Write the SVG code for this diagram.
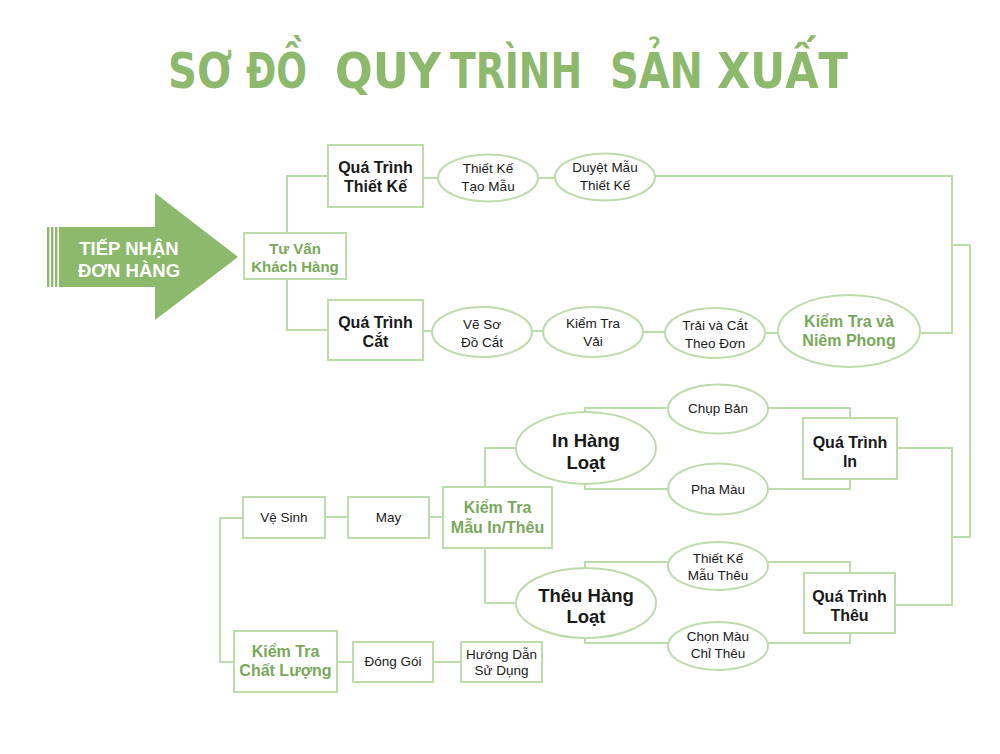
<svg xmlns="http://www.w3.org/2000/svg" width="1000" height="754" viewBox="0 0 1000 754">
<style>
.bx{fill:#fff;stroke:#bddcab;stroke-width:2}
.el{fill:#fff;stroke:#bddcab;stroke-width:2}
.cn{fill:none;stroke:#bddcab;stroke-width:2}
text{font-family:"Liberation Sans",Arial,sans-serif;text-anchor:middle}
.t{font-family:"DejaVu Sans Condensed","DejaVu Sans",sans-serif;font-stretch:condensed;font-weight:bold;font-size:49px;fill:#8cb96b;text-anchor:start}
.b{font-weight:bold;font-size:16px;fill:#1a1a1a}
.g{font-weight:bold;font-size:16px;fill:#79a85b}
.s{font-size:13.5px;fill:#1a1a1a}
.big{font-weight:bold;font-size:18.5px;fill:#1a1a1a}
</style>
<rect width="1000" height="754" fill="#fff"/>
<g id="title">
<text class="t" x="168" y="88" textLength="64" lengthAdjust="spacingAndGlyphs">SƠ</text>
<text class="t" x="246" y="88" textLength="61" lengthAdjust="spacingAndGlyphs">ĐỒ</text>
<text class="t" x="335" y="88" textLength="106" lengthAdjust="spacingAndGlyphs">QUY</text>
<text class="t" x="450" y="88" textLength="132" lengthAdjust="spacingAndGlyphs">TRÌNH</text>
<text class="t" x="610" y="88" textLength="93" lengthAdjust="spacingAndGlyphs">SẢN</text>
<text class="t" x="717" y="88" textLength="131" lengthAdjust="spacingAndGlyphs">XUẤT</text>
</g>

<g id="connectors">
<path class="cn" d="M287,233 V176 H328"/>
<path class="cn" d="M287,279 V330 H328"/>
<path class="cn" d="M423,178 H438"/>
<path class="cn" d="M538,178 H555"/>
<path class="cn" d="M655,176 H952 V333 H920"/>
<path class="cn" d="M423,331 H432"/>
<path class="cn" d="M532,331 H543"/>
<path class="cn" d="M643,332 H665"/>
<path class="cn" d="M765,333 H778"/>
<path class="cn" d="M952,245 H970 V537 H952"/>
<path class="cn" d="M897,448 H952 V605 H895"/>
<path class="cn" d="M585,413 V408 H668 M768,408 H850 V418"/>
<path class="cn" d="M585,483 V489 H668 M768,489 H850 V479"/>
<path class="cn" d="M585,568 V562 H668 M768,562 H850 V573"/>
<path class="cn" d="M585,638 V643 H668 M768,643 H850 V633"/>
<path class="cn" d="M485,487 V448 H516 M485,548 V603 H516"/>
<path class="cn" d="M325,517 H348 M429,517 H443"/>
<path class="cn" d="M243,518 H220 V662 H234"/>
<path class="cn" d="M337,662 H353 M433,662 H461"/>
</g>

<g id="tiep-nhan">
<rect x="47" y="227" width="2.4" height="60" fill="#8cb96b"/>
<rect x="51" y="227" width="2.4" height="60" fill="#8cb96b"/>
<rect x="55" y="227" width="2.4" height="60" fill="#8cb96b"/>
<path d="M59,227 H155 V193 L238,257 L155,320 V287 H59 Z" fill="#8cb96b"/>
<text x="129" y="255" style="font-weight:bold;font-size:18.5px;fill:#fff">TIẾP NHẬN</text>
<text x="129" y="277" style="font-weight:bold;font-size:18.5px;fill:#fff">ĐƠN HÀNG</text>
</g>

<g id="tu-van">
<rect class="bx" x="244" y="233" width="102" height="46"/>
<text class="g" x="295" y="254" style="font-size:15px">Tư Vấn</text>
<text class="g" x="295" y="272" style="font-size:15px">Khách Hàng</text>
</g>

<g id="qt-thiet-ke">
<rect class="bx" x="328" y="145" width="95" height="62"/>
<text class="b" x="375.5" y="173">Quá Trình</text>
<text class="b" x="375.5" y="192">Thiết Kế</text>
</g>
<g id="thiet-ke-tao-mau">
<ellipse class="el" cx="488" cy="178" rx="50" ry="23.5"/>
<text class="s" x="488" y="173">Thiết Kế</text>
<text class="s" x="488" y="191">Tạo Mẫu</text>
</g>
<g id="duyet-mau">
<ellipse class="el" cx="605" cy="177" rx="50" ry="23.5"/>
<text class="s" x="605" y="172">Duyệt Mẫu</text>
<text class="s" x="605" y="190">Thiết Kế</text>
</g>

<g id="qt-cat">
<rect class="bx" x="328" y="300" width="95" height="60"/>
<text class="b" x="375.5" y="328">Quá Trình</text>
<text class="b" x="375.5" y="347">Cắt</text>
</g>
<g id="ve-so-do">
<ellipse class="el" cx="482" cy="332" rx="50" ry="25"/>
<text class="s" x="482" y="329">Vẽ Sơ</text>
<text class="s" x="482" y="347">Đồ Cắt</text>
</g>
<g id="kiem-tra-vai">
<ellipse class="el" cx="593" cy="332" rx="50" ry="25"/>
<text class="s" x="593" y="328">Kiểm Tra</text>
<text class="s" x="593" y="346">Vải</text>
</g>
<g id="trai-cat">
<ellipse class="el" cx="715" cy="333" rx="50" ry="25"/>
<text class="s" x="715" y="330">Trải và Cắt</text>
<text class="s" x="715" y="348">Theo Đơn</text>
</g>
<g id="kiem-tra-niem-phong">
<ellipse class="el" cx="849" cy="331" rx="71" ry="36"/>
<text class="g" x="849" y="327">Kiểm Tra và</text>
<text class="g" x="849" y="346">Niêm Phong</text>
</g>

<g id="in-hang-loat">
<ellipse class="el" cx="586" cy="448" rx="70" ry="36"/>
<text class="big" x="586" y="447">In Hàng</text>
<text class="big" x="586" y="469">Loạt</text>
</g>
<g id="chup-ban">
<ellipse class="el" cx="718" cy="409" rx="50" ry="24.5"/>
<text class="s" x="718" y="413">Chụp Bản</text>
</g>
<g id="pha-mau">
<ellipse class="el" cx="718" cy="489" rx="50" ry="25.5"/>
<text class="s" x="718" y="494">Pha Màu</text>
</g>
<g id="qt-in">
<rect class="bx" x="803" y="418" width="94" height="61"/>
<text class="b" x="850" y="448">Quá Trình</text>
<text class="b" x="850" y="467">In</text>
</g>

<g id="theu-hang-loat">
<ellipse class="el" cx="586" cy="603" rx="70" ry="35"/>
<text class="big" x="586" y="602">Thêu Hàng</text>
<text class="big" x="586" y="623">Loạt</text>
</g>
<g id="thiet-ke-mau-theu">
<ellipse class="el" cx="718" cy="566" rx="50" ry="24"/>
<text class="s" x="718" y="563">Thiết Kế</text>
<text class="s" x="718" y="580">Mẫu Thêu</text>
</g>
<g id="chon-mau">
<ellipse class="el" cx="718" cy="646" rx="50" ry="24"/>
<text class="s" x="718" y="641">Chọn Màu</text>
<text class="s" x="718" y="658">Chỉ Thêu</text>
</g>
<g id="qt-theu">
<rect class="bx" x="804" y="573" width="91" height="60"/>
<text class="b" x="849.5" y="602">Quá Trình</text>
<text class="b" x="849.5" y="621">Thêu</text>
</g>

<g id="kiem-tra-mau">
<rect class="bx" x="443" y="487" width="109" height="61"/>
<text class="g" x="497.5" y="513">Kiểm Tra</text>
<text class="g" x="497.5" y="533">Mẫu In/Thêu</text>
</g>
<g id="may">
<rect class="bx" x="348" y="497" width="81" height="41"/>
<text class="s" x="388.5" y="522">May</text>
</g>
<g id="ve-sinh">
<rect class="bx" x="243" y="497" width="82" height="41"/>
<text class="s" x="284" y="522">Vệ Sinh</text>
</g>
<g id="kiem-tra-chat-luong">
<rect class="bx" x="234" y="631" width="103" height="61"/>
<text class="g" x="285.5" y="657">Kiểm Tra</text>
<text class="g" x="285.5" y="676">Chất Lượng</text>
</g>
<g id="dong-goi">
<rect class="bx" x="353" y="642" width="80" height="40"/>
<text class="s" x="393" y="666">Đóng Gói</text>
</g>
<g id="huong-dan">
<rect class="bx" x="461" y="642" width="81" height="40"/>
<text class="s" x="501.5" y="659">Hướng Dẫn</text>
<text class="s" x="501.5" y="675">Sử Dụng</text>
</g>
</svg>
